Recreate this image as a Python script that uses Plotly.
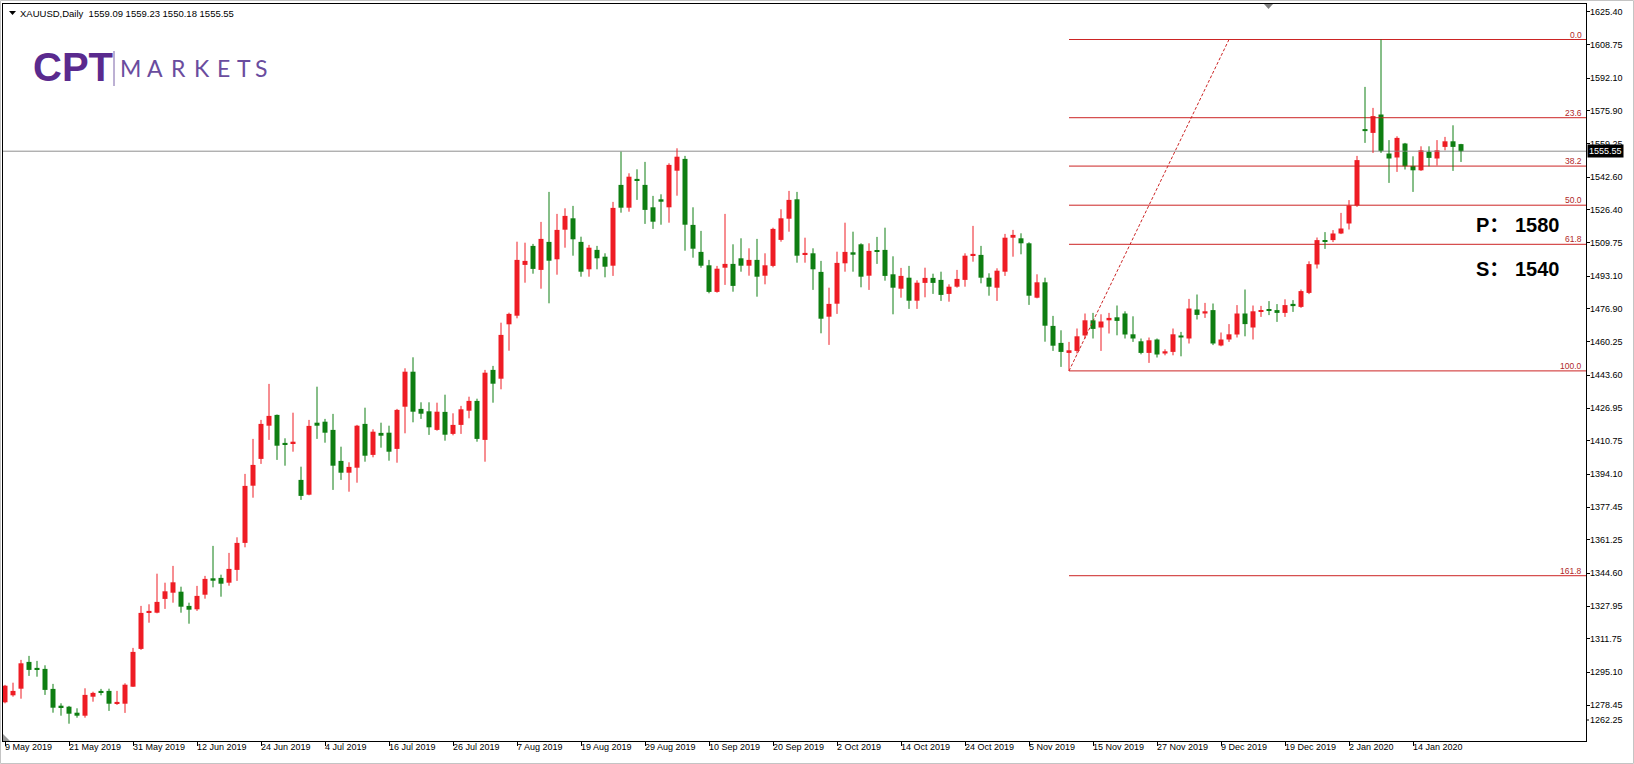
import datetime as dt
import plotly.graph_objects as go

# ---------------- data ----------------
symbol = "XAUUSD"
timeframe = "Daily"
start_date = dt.date(2019, 5, 9)
holidays = [dt.date(2019, 12, 25), dt.date(2020, 1, 1)]
label_every = 8

opens = [1280.0, 1283.5, 1286.8, 1300.2, 1297.2, 1296.7, 1286.7, 1278.3, 1277.8, 1274.8,
         1273.3, 1282.8, 1285.7, 1285.7, 1279.3, 1279.3, 1287.8, 1306.7, 1325.0, 1324.8,
         1331.7, 1334.8, 1335.3, 1328.2, 1326.5, 1333.8, 1342.0, 1342.2, 1339.8, 1346.2,
         1359.7, 1388.3, 1401.7, 1418.3, 1423.7, 1409.7, 1409.5, 1391.2, 1383.8, 1419.8,
         1420.3, 1416.2, 1400.7, 1394.8, 1397.3, 1419.2, 1403.7, 1414.7, 1414.8, 1406.7,
         1427.8, 1445.3, 1426.7, 1425.5, 1416.2, 1425.2, 1414.2, 1418.7, 1425.8, 1430.7,
         1411.2, 1446.2, 1441.8, 1469.0, 1473.3, 1498.7, 1508.2, 1496.2, 1510.2, 1501.5,
         1516.3, 1522.0, 1510.2, 1496.5, 1506.2, 1502.8, 1498.3, 1538.7, 1527.3, 1541.7,
         1538.7, 1527.5, 1531.5, 1527.5, 1545.8, 1551.7, 1518.7, 1505.2, 1498.5, 1485.2,
         1497.3, 1499.2, 1502.0, 1498.3, 1501.2, 1493.3, 1498.2, 1511.2, 1521.8, 1531.5,
         1503.8, 1504.5, 1495.2, 1472.8, 1479.3, 1499.5, 1505.0, 1509.0, 1493.3, 1506.0,
         1506.2, 1494.0, 1486.8, 1492.3, 1480.8, 1489.7, 1492.2, 1491.2, 1484.2, 1487.8,
         1491.2, 1503.3, 1503.7, 1492.3, 1487.3, 1495.3, 1512.3, 1512.0, 1509.5, 1482.3,
         1490.0, 1468.2, 1459.7, 1454.7, 1455.7, 1463.4, 1471.0, 1467.4, 1471.0, 1472.5,
         1474.4, 1464.0, 1460.5, 1454.7, 1461.4, 1454.4, 1455.2, 1463.4, 1461.9, 1476.4,
         1474.4, 1476.1, 1458.4, 1461.4, 1463.9, 1474.4, 1467.4, 1475.2, 1476.1, 1476.1,
         1474.7, 1479.2, 1477.7, 1484.7, 1498.9, 1510.7, 1511.1, 1514.4, 1519.4, 1528.4,
         1566.6, 1564.7, 1573.9, 1554.4, 1552.4, 1559.4, 1548.2, 1546.0, 1555.2, 1551.9,
         1557.7, 1560.5, 1559.09]
highs = [1288.7, 1289.8, 1301.2, 1303.2, 1300.7, 1298.5, 1289.2, 1279.5, 1278.2, 1277.0,
         1287.0, 1285.3, 1286.7, 1286.8, 1285.7, 1289.5, 1307.2, 1328.2, 1329.0, 1344.3,
         1339.8, 1348.2, 1337.8, 1329.8, 1338.2, 1343.2, 1358.2, 1343.8, 1354.7, 1362.5,
         1394.2, 1411.7, 1421.2, 1439.2, 1423.9, 1412.0, 1424.8, 1397.8, 1421.2, 1437.8,
         1421.7, 1424.2, 1407.8, 1400.0, 1418.7, 1427.3, 1416.5, 1419.8, 1418.3, 1426.7,
         1447.0, 1452.5, 1430.0, 1430.0, 1429.8, 1433.8, 1424.5, 1428.2, 1432.8, 1431.8,
         1446.2, 1448.2, 1469.8, 1474.8, 1510.3, 1509.8, 1509.2, 1520.2, 1535.2, 1524.2,
         1527.0, 1528.2, 1512.8, 1508.7, 1508.2, 1504.5, 1530.2, 1555.3, 1544.5, 1546.5,
         1550.2, 1533.2, 1534.0, 1549.5, 1557.0, 1553.2, 1527.5, 1515.7, 1501.2, 1498.2,
         1524.2, 1509.0, 1512.0, 1507.0, 1511.7, 1504.5, 1517.3, 1526.5, 1535.7, 1535.2,
         1512.3, 1507.0, 1500.7, 1487.3, 1505.3, 1519.8, 1515.3, 1509.5, 1509.5, 1512.7,
         1517.3, 1503.0, 1497.2, 1498.2, 1491.0, 1497.3, 1494.3, 1495.3, 1489.0, 1496.2,
         1504.5, 1518.2, 1508.2, 1494.5, 1497.0, 1514.2, 1516.2, 1514.5, 1510.0, 1494.0,
         1492.3, 1473.2, 1466.0, 1460.2, 1466.9, 1474.4, 1474.7, 1474.0, 1474.7, 1478.4,
         1475.5, 1473.0, 1461.9, 1462.4, 1461.9, 1456.5, 1466.9, 1465.2, 1481.7, 1483.9,
         1479.7, 1479.4, 1464.9, 1469.1, 1478.6, 1486.4, 1478.4, 1478.2, 1480.6, 1479.1,
         1481.5, 1481.1, 1486.4, 1500.5, 1512.4, 1515.1, 1516.1, 1524.7, 1531.1, 1553.2,
         1587.7, 1577.2, 1611.4, 1561.1, 1563.0, 1559.7, 1553.0, 1558.0, 1558.0, 1561.1,
         1562.7, 1568.5, 1559.23]
lows = [1279.5, 1282.8, 1281.8, 1293.2, 1292.8, 1283.7, 1274.8, 1273.3, 1269.3, 1272.3,
        1272.3, 1280.3, 1283.5, 1275.7, 1278.7, 1274.7, 1287.7, 1306.2, 1319.8, 1324.5,
        1326.7, 1329.8, 1324.8, 1319.3, 1325.7, 1331.8, 1337.5, 1332.8, 1338.3, 1340.7,
        1357.5, 1382.3, 1399.2, 1411.2, 1401.2, 1398.3, 1405.3, 1381.2, 1383.5, 1411.7,
        1409.8, 1386.2, 1391.2, 1385.3, 1389.8, 1400.3, 1402.5, 1407.3, 1400.8, 1399.8,
        1414.5, 1420.0, 1421.7, 1413.7, 1415.8, 1410.8, 1413.5, 1414.2, 1422.0, 1410.3,
        1400.3, 1429.8, 1436.5, 1455.8, 1472.0, 1489.8, 1494.3, 1486.8, 1479.5, 1493.8,
        1507.3, 1503.3, 1492.8, 1492.8, 1496.5, 1492.5, 1493.2, 1524.8, 1525.3, 1531.2,
        1519.2, 1516.7, 1518.8, 1519.8, 1533.3, 1505.8, 1502.3, 1497.3, 1484.5, 1484.8,
        1488.7, 1485.3, 1495.3, 1493.3, 1482.8, 1489.0, 1497.5, 1510.3, 1515.3, 1499.8,
        1499.8, 1486.2, 1464.5, 1458.7, 1474.2, 1495.3, 1495.3, 1487.5, 1486.2, 1499.2,
        1490.8, 1474.0, 1482.3, 1476.7, 1476.7, 1482.5, 1484.2, 1480.7, 1480.3, 1487.3,
        1487.8, 1500.3, 1489.5, 1483.3, 1480.7, 1493.2, 1502.8, 1504.0, 1478.7, 1482.0,
        1460.3, 1455.7, 1447.7, 1445.7, 1454.4, 1461.9, 1461.9, 1455.7, 1464.4, 1463.5,
        1461.9, 1460.2, 1454.0, 1449.7, 1452.4, 1453.5, 1453.5, 1453.0, 1459.4, 1471.4,
        1472.2, 1458.6, 1458.0, 1460.2, 1462.4, 1463.0, 1461.4, 1472.7, 1473.6, 1470.2,
        1472.7, 1475.2, 1477.2, 1484.1, 1496.9, 1506.7, 1510.1, 1514.1, 1516.4, 1527.7,
        1559.7, 1554.7, 1554.7, 1539.7, 1545.2, 1546.4, 1535.2, 1545.7, 1548.0, 1548.4,
        1556.0, 1545.7, 1550.18]
closes = [1288.3, 1285.7, 1299.5, 1296.2, 1296.5, 1286.2, 1277.3, 1277.5, 1274.3, 1273.3,
          1283.7, 1284.7, 1285.0, 1279.3, 1280.2, 1288.8, 1305.2, 1324.7, 1325.7, 1330.2,
          1335.5, 1340.0, 1327.8, 1326.3, 1333.2, 1341.7, 1340.8, 1339.3, 1346.7, 1359.7,
          1388.2, 1398.7, 1419.2, 1423.2, 1408.3, 1408.8, 1410.3, 1383.2, 1418.2, 1418.3,
          1414.8, 1398.3, 1394.8, 1397.7, 1418.3, 1403.3, 1415.3, 1413.3, 1405.3, 1426.2,
          1445.3, 1425.3, 1424.3, 1417.5, 1425.3, 1413.8, 1418.7, 1426.5, 1430.7, 1411.7,
          1444.8, 1439.3, 1463.7, 1474.2, 1501.2, 1500.7, 1496.7, 1511.7, 1500.8, 1516.2,
          1523.2, 1511.5, 1495.3, 1507.3, 1502.0, 1497.8, 1527.2, 1527.3, 1542.8, 1540.8,
          1526.2, 1520.3, 1530.3, 1548.7, 1552.8, 1518.8, 1506.8, 1498.3, 1485.2, 1496.8,
          1499.2, 1488.2, 1498.3, 1501.2, 1492.8, 1498.5, 1516.7, 1522.0, 1531.2, 1503.3,
          1504.7, 1496.5, 1471.8, 1479.2, 1499.7, 1505.2, 1503.8, 1492.8, 1505.7, 1505.3,
          1493.2, 1487.3, 1493.2, 1480.8, 1489.8, 1492.2, 1489.7, 1483.7, 1487.8, 1491.7,
          1503.3, 1504.2, 1492.3, 1487.8, 1495.8, 1512.3, 1513.7, 1509.5, 1483.3, 1490.0,
          1468.3, 1458.3, 1455.2, 1456.0, 1463.0, 1471.0, 1466.7, 1470.4, 1472.2, 1470.7,
          1463.9, 1461.9, 1454.7, 1461.0, 1453.9, 1455.5, 1464.0, 1462.4, 1476.9, 1473.7,
          1475.5, 1459.4, 1461.4, 1464.0, 1474.4, 1469.1, 1475.5, 1475.7, 1475.7, 1474.7,
          1478.6, 1478.1, 1485.6, 1499.1, 1511.1, 1510.2, 1514.4, 1516.9, 1528.4, 1551.1,
          1565.6, 1573.1, 1555.7, 1551.9, 1562.2, 1548.0, 1546.0, 1556.0, 1552.2, 1556.0,
          1560.5, 1557.7, 1555.55]

price_ticks = [1625.40, 1608.75, 1592.10, 1575.90, 1559.25, 1542.60, 1526.40, 1509.75,
               1493.10, 1476.90, 1460.25, 1443.60, 1426.95, 1410.75, 1394.10, 1377.45,
               1361.25, 1344.60, 1327.95, 1311.75, 1295.10, 1278.45, 1262.25]

fib_levels = [0.0, 23.6, 38.2, 50.0, 61.8, 100.0, 161.8]
fib_low_bar = 133
fib_high_bar = 172
fib_trend_end_bar = 153

targets = [("P", 1580), ("S", 1540)]

# ---------------- derived ----------------
dates = []
d = start_date
while len(dates) < len(opens):
    if d.weekday() < 5 and d not in holidays:
        dates.append(d)
    d += dt.timedelta(days=1)

n = len(opens)
idx = list(range(n))

W, H = 1634, 764
ML, MR, MT, MB = 3, 48, 4, 23
PW, PH = W - ML - MR, H - MT - MB
bar_px = 8.0
x_range = [-0.25, -0.25 + PW / bar_px]
y_top = 1629.15
y_range = [y_top - PH / 2.0, y_top]


def xp(px):
    return (px - ML) / PW


def yp(py):
    return (MT + PH - py) / PH


UP = "#EE1C24"
DOWN = "#0E7E12"
FIB = "#CC2424"
FIB_TXT = "#B02828"
AX_FONT = "Tahoma, 'Liberation Sans', Arial, sans-serif"

fig = go.Figure()

# current price line
fig.add_trace(go.Scatter(x=x_range, y=[closes[-1]] * 2, mode="lines",
                         line=dict(color="#8E8E8E", width=1), hoverinfo="skip"))

# fibonacci retracement
fib_hi = highs[fib_high_bar]
fib_lo = lows[fib_low_bar]
fib_prices = [fib_hi - lv / 100.0 * (fib_hi - fib_lo) for lv in fib_levels]
for lv, p in zip(fib_levels, fib_prices):
    fig.add_trace(go.Scatter(x=[fib_low_bar, x_range[1]], y=[p, p], mode="lines",
                             line=dict(color=FIB, width=1), hoverinfo="skip"))
fig.add_trace(go.Scatter(x=[fib_low_bar, fib_trend_end_bar], y=[fib_lo, fib_hi], mode="lines",
                         line=dict(color=FIB, width=1, dash="3px,2px"), hoverinfo="skip"))

# wicks
for col, cond in ((UP, True), (DOWN, False)):
    wx, wy = [], []
    for i in idx:
        if (closes[i] >= opens[i]) == cond:
            wx += [i, i, None]
            wy += [lows[i], highs[i], None]
    fig.add_trace(go.Scatter(x=wx, y=wy, mode="lines", line=dict(color=col, width=1),
                             hoverinfo="skip"))

# bodies
bases = [min(o, c) for o, c in zip(opens, closes)]
sizes = [max(abs(c - o), 0.7) for o, c in zip(opens, closes)]
cols = [UP if c >= o else DOWN for o, c in zip(opens, closes)]
fig.add_trace(go.Bar(x=idx, y=sizes, base=bases, width=0.625,
                     marker=dict(color=cols, line=dict(width=0)), hoverinfo="skip"))

# ---------------- annotations ----------------
ann = []
label_idx = list(range(0, n, label_every))
for i in label_idx:
    dd = dates[i]
    ann.append(dict(x=i, y=0, xref="x", yref="paper", xanchor="left", yanchor="top",
                    text=f"{dd.day} {dd.strftime('%b %Y')}", showarrow=False,
                    font=dict(family=AX_FONT, size=9, color="#000000"), xshift=-2, yshift=1))

# price axis labels (MT4 keeps the lowest one inside the chart)
for k, v in enumerate(price_ticks):
    last = k == len(price_ticks) - 1
    ann.append(dict(x=xp(1588), y=yp(720) if last else v, xref="paper",
                    yref="paper" if last else "y", xanchor="left", yanchor="middle",
                    text=f"{v:.2f}", showarrow=False,
                    font=dict(family=AX_FONT, size=9, color="#000000")))

# header
hdr = (f"{symbol},{timeframe}\u00a0\u00a0{opens[-1]:.2f} {highs[-1]:.2f} "
       f"{lows[-1]:.2f} {closes[-1]:.2f}")
ann.append(dict(x=xp(18), y=yp(13), xref="paper", yref="paper", xanchor="left",
                yanchor="middle", text=hdr, showarrow=False,
                font=dict(family=AX_FONT, size=9.5, color="#000000")))

# fib labels
for lv, p in zip(fib_levels, fib_prices):
    ann.append(dict(x=xp(1584), y=p, xref="paper", yref="y", xanchor="right",
                    yanchor="bottom", text=f"{lv:.1f}", showarrow=False, yshift=-2,
                    font=dict(family=AX_FONT, size=8.5, color=FIB_TXT)))

# current price tag on axis
ann.append(dict(x=xp(1587), y=closes[-1], xref="paper", yref="y", xanchor="left",
                yanchor="middle", text=f"{closes[-1]:.2f}", showarrow=False,
                bgcolor="#000000", borderpad=1,
                font=dict(family=AX_FONT, size=9, color="#FFFFFF")))

# targets
for (name, val), cy in zip(targets, (225, 269)):
    ann.append(dict(x=xp(1474), y=yp(cy), xref="paper", yref="paper", xanchor="left",
                    yanchor="middle", text=f"<b>{name}：</b>", showarrow=False,
                    font=dict(family="'Liberation Sans', 'Noto Sans CJK SC', sans-serif",
                              size=20, color="#000000")))
    ann.append(dict(x=xp(1513), y=yp(cy), xref="paper", yref="paper", xanchor="left",
                    yanchor="middle", text=f"<b>{val}</b>", showarrow=False,
                    font=dict(family="'Liberation Sans', Arial, sans-serif",
                              size=20, color="#000000")))

# logo
LOGO = "#5A2A8E"
ann.append(dict(x=xp(31), y=yp(67), xref="paper", yref="paper", xanchor="left",
                yanchor="middle", text="<b>CPT</b>", showarrow=False,
                font=dict(family="'Liberation Sans', Arial, sans-serif", size=40, color=LOGO)))
for ch, cx in zip("MARKETS", (130.5, 155, 178.7, 202, 223.7, 243.7, 261)):
    ann.append(dict(x=xp(cx), y=yp(68.5), xref="paper", yref="paper", xanchor="center",
                    yanchor="middle", text=ch, showarrow=False,
                    font=dict(family="Lato, 'Open Sans', sans-serif", size=23, color="#6A4C9E")))

shapes = [
    dict(type="line", xref="paper", yref="paper", x0=xp(114), x1=xp(114), y0=yp(51), y1=yp(86),
         line=dict(color="#7A62A8", width=1)),
    dict(type="path", xref="paper", yref="paper",
         path=f"M {xp(9)},{yp(11)} L {xp(16)},{yp(11)} L {xp(12.5)},{yp(15)} Z",
         fillcolor="#000000", line=dict(width=0)),
    dict(type="path", xref="paper", yref="paper",
         path=f"M {xp(1264)},{yp(4)} L {xp(1273)},{yp(4)} L {xp(1268.5)},{yp(9)} Z",
         fillcolor="#808080", line=dict(width=0)),
    dict(type="path", xref="paper", yref="paper",
         path=f"M {xp(3)},{yp(734)} L {xp(3)},{yp(741)} L {xp(10)},{yp(741)} Z",
         fillcolor="#9A9A9A", line=dict(width=0)),
    dict(type="line", xref="paper", yref="paper", x0=xp(1586), x1=xp(1589), y0=yp(720), y1=yp(720),
         line=dict(color="#000000", width=1)),
    dict(type="rect", xref="paper", yref="paper", x0=xp(0.5), x1=xp(W - 0.5),
         y0=yp(H - 0.5), y1=yp(0.5), line=dict(color="#C4C4C4", width=1)),
]

fig.update_layout(
    width=W, height=H,
    margin=dict(l=ML, r=MR, t=MT, b=MB, pad=0, autoexpand=False),
    paper_bgcolor="#FFFFFF", plot_bgcolor="#FFFFFF",
    showlegend=False, barmode="overlay", hovermode=False,
    annotations=ann, shapes=shapes,
    xaxis=dict(range=x_range, showgrid=False, zeroline=False, showline=True,
               linecolor="#000000", linewidth=1, mirror=True, automargin=False,
               tickmode="array", tickvals=label_idx, showticklabels=False,
               ticks="outside", ticklen=4, tickcolor="#000000"),
    yaxis=dict(range=y_range, side="right", showgrid=False, zeroline=False,
               showline=True, linecolor="#000000", linewidth=1, mirror=True,
               automargin=False, tickmode="array", tickvals=price_ticks[:-1],
               showticklabels=False, ticks="outside", ticklen=3, tickcolor="#000000"),
)

fig.write_html("out.html", config={"displayModeBar": False},
               post_script="document.body.style.margin='0';document.body.style.overflow='hidden';")
